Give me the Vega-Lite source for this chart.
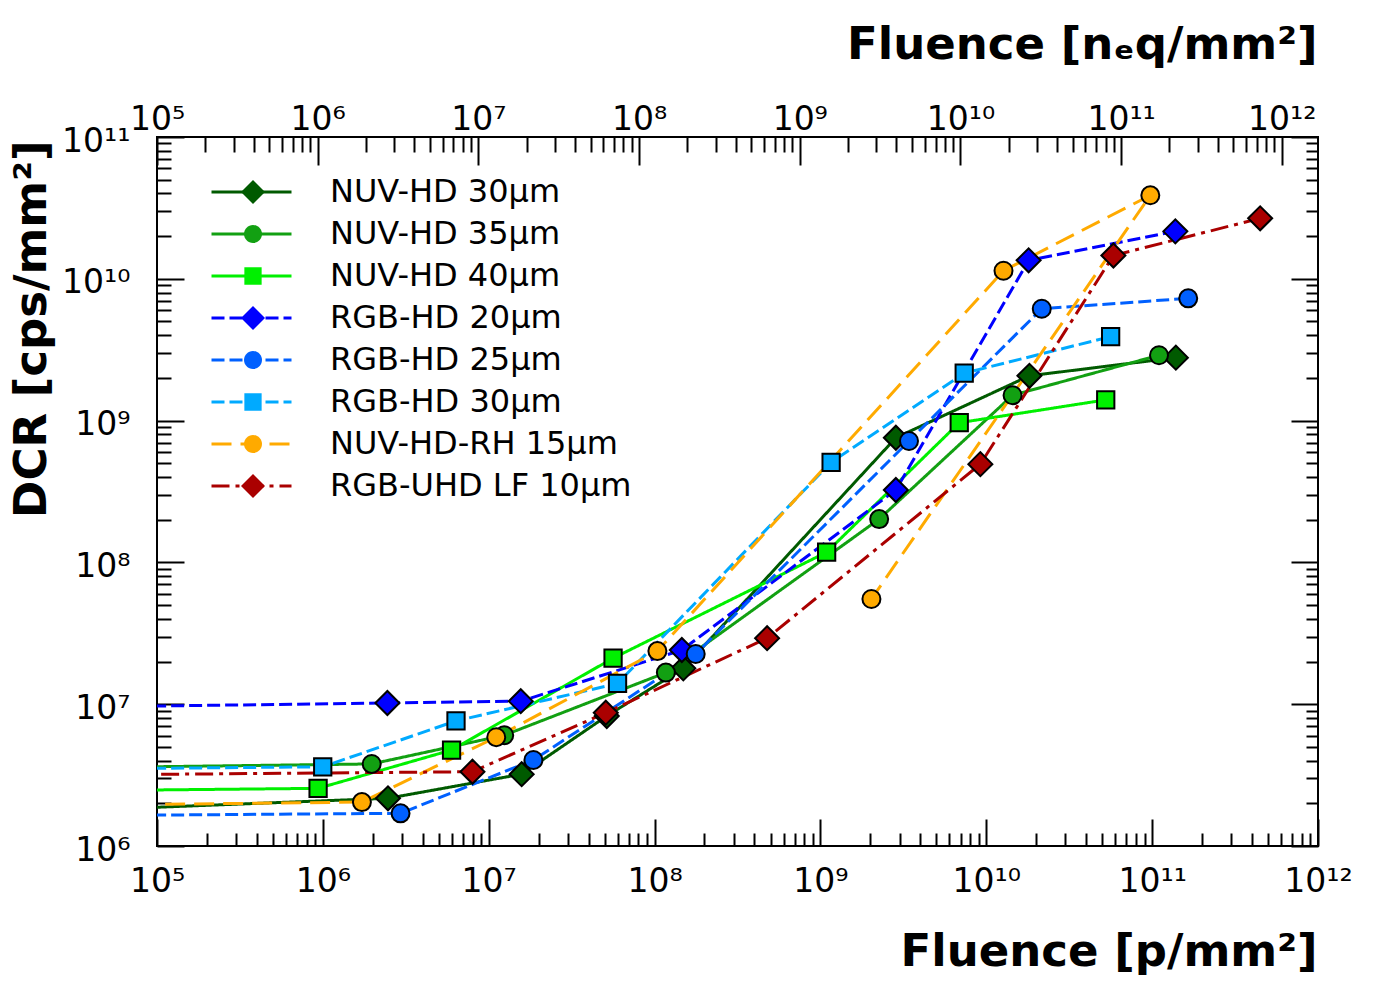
{
  "$schema": "https://vega.github.io/schema/vega-lite/v6.json",
  "description": "DCR vs fluence for several SiPM types, log-log with top n_eq axis.",
  "width": 1161,
  "height": 709,
  "autosize": "none",
  "padding": {"left": 157, "top": 137, "right": 59, "bottom": 138},
  "background": "white",
  "config": {
    "view": {"stroke": "black", "strokeWidth": 2},
    "axis": {
      "domain": false,
      "grid": false,
      "tickColor": "black",
      "tickWidth": 2,
      "labelFont": "DejaVu Sans",
      "labelFontSize": 33,
      "labelColor": "black",
      "labelFlush": false,
      "labelOverlap": false,
      "labelBound": false,
      "titleFont": "DejaVu Sans",
      "titleFontWeight": "bold",
      "titleFontSize": 45,
      "titleColor": "black"
    },
    "legend": {"labelFont": "DejaVu Sans", "labelFontSize": 32, "labelColor": "black", "labelLimit": 500}
  },
  "data": {
    "values": [
      {"series": "NUV-HD 30µm", "sidx": 0, "idx": 0, "fluence": 1e4, "dcr": 1.69e6},
      {"series": "NUV-HD 30µm", "sidx": 0, "idx": 1, "fluence": 2.47e6, "dcr": 2.17e6},
      {"series": "NUV-HD 30µm", "sidx": 0, "idx": 2, "fluence": 1.58e7, "dcr": 3.21e6},
      {"series": "NUV-HD 30µm", "sidx": 0, "idx": 3, "fluence": 5.15e7, "dcr": 8.26e6},
      {"series": "NUV-HD 30µm", "sidx": 0, "idx": 4, "fluence": 1.49e8, "dcr": 1.79e7},
      {"series": "NUV-HD 30µm", "sidx": 0, "idx": 5, "fluence": 2.85e9, "dcr": 7.57e8},
      {"series": "NUV-HD 30µm", "sidx": 0, "idx": 6, "fluence": 1.82e10, "dcr": 2.07e9},
      {"series": "NUV-HD 30µm", "sidx": 0, "idx": 7, "fluence": 1.39e11, "dcr": 2.78e9},
      {"series": "NUV-HD 35µm", "sidx": 1, "idx": 0, "fluence": 1e4, "dcr": 3.5e6},
      {"series": "NUV-HD 35µm", "sidx": 1, "idx": 1, "fluence": 1.97e6, "dcr": 3.79e6},
      {"series": "NUV-HD 35µm", "sidx": 1, "idx": 2, "fluence": 1.24e7, "dcr": 6.04e6},
      {"series": "NUV-HD 35µm", "sidx": 1, "idx": 3, "fluence": 1.17e8, "dcr": 1.67e7},
      {"series": "NUV-HD 35µm", "sidx": 1, "idx": 4, "fluence": 2.26e9, "dcr": 2.02e8},
      {"series": "NUV-HD 35µm", "sidx": 1, "idx": 5, "fluence": 1.44e10, "dcr": 1.51e9},
      {"series": "NUV-HD 35µm", "sidx": 1, "idx": 6, "fluence": 1.1e11, "dcr": 2.89e9},
      {"series": "NUV-HD 40µm", "sidx": 2, "idx": 0, "fluence": 1e4, "dcr": 2.42e6},
      {"series": "NUV-HD 40µm", "sidx": 2, "idx": 1, "fluence": 9.36e5, "dcr": 2.55e6},
      {"series": "NUV-HD 40µm", "sidx": 2, "idx": 2, "fluence": 5.97e6, "dcr": 4.75e6},
      {"series": "NUV-HD 40µm", "sidx": 2, "idx": 3, "fluence": 5.62e7, "dcr": 2.11e7},
      {"series": "NUV-HD 40µm", "sidx": 2, "idx": 4, "fluence": 1.09e9, "dcr": 1.18e8},
      {"series": "NUV-HD 40µm", "sidx": 2, "idx": 5, "fluence": 6.87e9, "dcr": 9.66e8},
      {"series": "NUV-HD 40µm", "sidx": 2, "idx": 6, "fluence": 5.25e10, "dcr": 1.4e9},
      {"series": "RGB-HD 20µm", "sidx": 3, "idx": 0, "fluence": 1e4, "dcr": 9.37e6},
      {"series": "RGB-HD 20µm", "sidx": 3, "idx": 1, "fluence": 2.45e6, "dcr": 1.02e7},
      {"series": "RGB-HD 20µm", "sidx": 3, "idx": 2, "fluence": 1.56e7, "dcr": 1.05e7},
      {"series": "RGB-HD 20µm", "sidx": 3, "idx": 3, "fluence": 1.46e8, "dcr": 2.41e7},
      {"series": "RGB-HD 20µm", "sidx": 3, "idx": 4, "fluence": 2.85e9, "dcr": 3.24e8},
      {"series": "RGB-HD 20µm", "sidx": 3, "idx": 5, "fluence": 1.8e10, "dcr": 1.35e10},
      {"series": "RGB-HD 20µm", "sidx": 3, "idx": 6, "fluence": 1.38e11, "dcr": 2.16e10},
      {"series": "RGB-HD 25µm", "sidx": 4, "idx": 0, "fluence": 1e4, "dcr": 1.62e6},
      {"series": "RGB-HD 25µm", "sidx": 4, "idx": 1, "fluence": 2.94e6, "dcr": 1.7e6},
      {"series": "RGB-HD 25µm", "sidx": 4, "idx": 2, "fluence": 1.86e7, "dcr": 4.04e6},
      {"series": "RGB-HD 25µm", "sidx": 4, "idx": 3, "fluence": 1.77e8, "dcr": 2.26e7},
      {"series": "RGB-HD 25µm", "sidx": 4, "idx": 4, "fluence": 3.42e9, "dcr": 7.18e8},
      {"series": "RGB-HD 25µm", "sidx": 4, "idx": 5, "fluence": 2.16e10, "dcr": 6.15e9},
      {"series": "RGB-HD 25µm", "sidx": 4, "idx": 6, "fluence": 1.65e11, "dcr": 7.28e9},
      {"series": "RGB-HD 30µm", "sidx": 5, "idx": 0, "fluence": 1e4, "dcr": 3.44e6},
      {"series": "RGB-HD 30µm", "sidx": 5, "idx": 1, "fluence": 9.98e5, "dcr": 3.62e6},
      {"series": "RGB-HD 30µm", "sidx": 5, "idx": 2, "fluence": 6.35e6, "dcr": 7.62e6},
      {"series": "RGB-HD 30µm", "sidx": 5, "idx": 3, "fluence": 5.98e7, "dcr": 1.4e7},
      {"series": "RGB-HD 30µm", "sidx": 5, "idx": 4, "fluence": 1.16e9, "dcr": 5.08e8},
      {"series": "RGB-HD 30µm", "sidx": 5, "idx": 5, "fluence": 7.36e9, "dcr": 2.16e9},
      {"series": "RGB-HD 30µm", "sidx": 5, "idx": 6, "fluence": 5.62e10, "dcr": 3.91e9},
      {"series": "NUV-HD-RH 15µm", "sidx": 6, "idx": 0, "fluence": 1e4, "dcr": 1.91e6},
      {"series": "NUV-HD-RH 15µm", "sidx": 6, "idx": 1, "fluence": 1.72e6, "dcr": 2.04e6},
      {"series": "NUV-HD-RH 15µm", "sidx": 6, "idx": 2, "fluence": 1.11e7, "dcr": 5.85e6},
      {"series": "NUV-HD-RH 15µm", "sidx": 6, "idx": 3, "fluence": 1.04e8, "dcr": 2.37e7},
      {"series": "NUV-HD-RH 15µm", "sidx": 6, "idx": 4, "fluence": 1.27e10, "dcr": 1.14e10},
      {"series": "NUV-HD-RH 15µm", "sidx": 6, "idx": 5, "fluence": 9.75e10, "dcr": 3.88e10},
      {"series": "NUV-HD-RH 15µm", "sidx": 6, "idx": 6, "fluence": 2.03e9, "dcr": 5.52e7},
      {"series": "RGB-UHD LF 10µm", "sidx": 7, "idx": 0, "fluence": 1e4, "dcr": 3.13e6},
      {"series": "RGB-UHD LF 10µm", "sidx": 7, "idx": 1, "fluence": 7.98e6, "dcr": 3.34e6},
      {"series": "RGB-UHD LF 10µm", "sidx": 7, "idx": 2, "fluence": 5.08e7, "dcr": 8.71e6},
      {"series": "RGB-UHD LF 10µm", "sidx": 7, "idx": 3, "fluence": 4.77e8, "dcr": 2.92e7},
      {"series": "RGB-UHD LF 10µm", "sidx": 7, "idx": 4, "fluence": 9.21e9, "dcr": 4.93e8},
      {"series": "RGB-UHD LF 10µm", "sidx": 7, "idx": 5, "fluence": 5.84e10, "dcr": 1.46e10},
      {"series": "RGB-UHD LF 10µm", "sidx": 7, "idx": 6, "fluence": 4.48e11, "dcr": 2.67e10}
    ]
  },
  "layer": [
    {
      "mark": {"type": "line", "clip": true, "strokeWidth": 3},
      "encoding": {
        "x": {
          "field": "fluence",
          "type": "quantitative",
          "scale": {"type": "log", "domain": [1e5, 1e12], "nice": false},
          "axis": {
            "orient": "bottom",
            "title": "Fluence [p/mm²]",
            "titleAnchor": "end",
            "titleAlign": "right",
            "titleBaseline": "alphabetic",
            "titleX": 1160,
            "titleY": 119,
            "labelPadding": 46,
            "tickSize": {"condition": {"test": "abs(log(datum.value)/LN10 - round(log(datum.value)/LN10)) < 0.001", "value": -27}, "value": -13},
            "values": [1e5, 2e5, 3e5, 4e5, 5e5, 6e5, 7e5, 8e5, 9e5, 1e6, 2e6, 3e6, 4e6, 5e6, 6e6, 7e6, 8e6, 9e6, 1e7, 2e7, 3e7, 4e7, 5e7, 6e7, 7e7, 8e7, 9e7, 1e8, 2e8, 3e8, 4e8, 5e8, 6e8, 7e8, 8e8, 9e8, 1e9, 2e9, 3e9, 4e9, 5e9, 6e9, 7e9, 8e9, 9e9, 1e10, 2e10, 3e10, 4e10, 5e10, 6e10, 7e10, 8e10, 9e10, 1e11, 2e11, 3e11, 4e11, 5e11, 6e11, 7e11, 8e11, 9e11, 1e12],
            "labelExpr": "abs(log(datum.value)/LN10 - round(log(datum.value)/LN10)) < 0.001 ? '10' + (round(log(datum.value)/LN10) >= 10 ? '¹' + ['⁰','¹','²','³','⁴','⁵','⁶','⁷','⁸','⁹'][round(log(datum.value)/LN10) - 10] : ['⁰','¹','²','³','⁴','⁵','⁶','⁷','⁸','⁹'][round(log(datum.value)/LN10)]) : ''"
          }
        },
        "y": {
          "field": "dcr",
          "type": "quantitative",
          "scale": {"type": "log", "domain": [1e6, 1e11], "nice": false},
          "axis": {
            "orient": "left",
            "title": "DCR [cps/mm²]",
            "titleAngle": -90,
            "titleAnchor": "end",
            "titleAlign": "right",
            "titleBaseline": "alphabetic",
            "titleX": -112,
            "titleY": 3,
            "labelPadding": 54,
            "labelOffset": 4,
            "tickSize": {"condition": {"test": "abs(log(datum.value)/LN10 - round(log(datum.value)/LN10)) < 0.001", "value": -27}, "value": -14},
            "values": [1e6, 2e6, 3e6, 4e6, 5e6, 6e6, 7e6, 8e6, 9e6, 1e7, 2e7, 3e7, 4e7, 5e7, 6e7, 7e7, 8e7, 9e7, 1e8, 2e8, 3e8, 4e8, 5e8, 6e8, 7e8, 8e8, 9e8, 1e9, 2e9, 3e9, 4e9, 5e9, 6e9, 7e9, 8e9, 9e9, 1e10, 2e10, 3e10, 4e10, 5e10, 6e10, 7e10, 8e10, 9e10, 1e11],
            "labelExpr": "abs(log(datum.value)/LN10 - round(log(datum.value)/LN10)) < 0.001 ? '10' + (round(log(datum.value)/LN10) >= 10 ? '¹' + ['⁰','¹','²','³','⁴','⁵','⁶','⁷','⁸','⁹'][round(log(datum.value)/LN10) - 10] : ['⁰','¹','²','³','⁴','⁵','⁶','⁷','⁸','⁹'][round(log(datum.value)/LN10)]) : ''"
          }
        },
        "color": {
          "field": "series",
          "type": "nominal",
          "scale": {
            "domain": ["NUV-HD 30µm", "NUV-HD 35µm", "NUV-HD 40µm", "RGB-HD 20µm", "RGB-HD 25µm", "RGB-HD 30µm", "NUV-HD-RH 15µm", "RGB-UHD LF 10µm"],
            "range": ["#005a00", "#12a012", "#00f000", "#0000ff", "#0060ff", "#00aaff", "#ffaa00", "#aa0000"]
          },
          "legend": {"orient": "none", "legendX": 53, "legendY": 34, "title": null, "padding": 0, "symbolSize": 6400, "symbolStrokeWidth": 3, "clipHeight": 42, "rowPadding": 0, "labelExpr": "''"}
        },
        "strokeDash": {
          "field": "series",
          "type": "nominal",
          "scale": {
            "domain": ["NUV-HD 30µm", "NUV-HD 35µm", "NUV-HD 40µm", "RGB-HD 20µm", "RGB-HD 25µm", "RGB-HD 30µm", "NUV-HD-RH 15µm", "RGB-UHD LF 10µm"],
            "range": [[1, 0], [1, 0], [1, 0], [13, 5], [13, 5], [13, 5], [20, 9], [18, 6, 4, 6]]
          },
          "legend": {"orient": "none", "legendX": 53, "legendY": 34, "title": null, "padding": 0, "symbolSize": 6400, "symbolStrokeWidth": 3, "clipHeight": 42, "rowPadding": 0, "labelExpr": "''"}
        },
        "order": {"field": "idx", "type": "quantitative"}
      }
    },
    {
      "mark": {"type": "point", "filled": true, "clip": true, "size": 576, "stroke": "black", "strokeWidth": 2, "opacity": 1},
      "encoding": {
        "x": {
          "field": "fluence",
          "type": "quantitative",
          "scale": {"type": "log", "domain": [1e5, 1e12], "nice": false},
          "axis": null
        },
        "y": {"field": "dcr", "type": "quantitative", "axis": null},
        "fill": {
          "field": "series",
          "type": "nominal",
          "sort": {"field": "sidx", "op": "min"},
          "scale": {"range": ["#005a00", "#12a012", "#00f000", "#0000ff", "#0060ff", "#00aaff", "#ffaa00", "#aa0000"]},
          "legend": {"orient": "none", "legendX": 80, "legendY": 34, "title": null, "padding": 0, "symbolSize": 576, "symbolStrokeColor": "black", "symbolStrokeWidth": 2, "clipHeight": 42, "rowPadding": 0, "labelOffset": 61, "labelBaseline": "middle"}
        },
        "shape": {
          "field": "series",
          "type": "nominal",
          "sort": {"field": "sidx", "op": "min"},
          "scale": {
            "range": [
              "M-1,0L0,-1L1,0L0,1Z",
              "M-0.75,0A0.75,0.75,0,1,1,0.75,0A0.75,0.75,0,1,1,-0.75,0Z",
              "M-0.72,-0.72L0.72,-0.72L0.72,0.72L-0.72,0.72Z",
              "M-1,0L0,-1L1,0L0,1Z",
              "M-0.75,0A0.75,0.75,0,1,1,0.75,0A0.75,0.75,0,1,1,-0.75,0Z",
              "M-0.72,-0.72L0.72,-0.72L0.72,0.72L-0.72,0.72Z",
              "M-0.75,0A0.75,0.75,0,1,1,0.75,0A0.75,0.75,0,1,1,-0.75,0Z",
              "M-1,0L0,-1L1,0L0,1Z"
            ]
          },
          "legend": {"orient": "none", "legendX": 80, "legendY": 34, "title": null, "padding": 0, "symbolSize": 576, "symbolStrokeColor": "black", "symbolStrokeWidth": 2, "clipHeight": 42, "rowPadding": 0, "labelOffset": 61, "labelBaseline": "middle"}
        }
      }
    },
    {
      "mark": {"type": "point", "opacity": 0, "clip": true},
      "encoding": {
        "x": {
          "field": "fluence",
          "type": "quantitative",
          "scale": {"type": "log", "domain": [1e5, 1.68e12], "nice": false},
          "axis": {
            "orient": "top",
            "title": "Fluence [nₑq/mm²]",
            "titleAnchor": "end",
            "titleAlign": "right",
            "titleBaseline": "alphabetic",
            "titleX": 1160,
            "titleY": -79,
            "labelPadding": 29,
            "tickSize": {"condition": {"test": "abs(log(datum.value)/LN10 - round(log(datum.value)/LN10)) < 0.001", "value": -28}, "value": -15},
            "values": [1e5, 2e5, 3e5, 4e5, 5e5, 6e5, 7e5, 8e5, 9e5, 1e6, 2e6, 3e6, 4e6, 5e6, 6e6, 7e6, 8e6, 9e6, 1e7, 2e7, 3e7, 4e7, 5e7, 6e7, 7e7, 8e7, 9e7, 1e8, 2e8, 3e8, 4e8, 5e8, 6e8, 7e8, 8e8, 9e8, 1e9, 2e9, 3e9, 4e9, 5e9, 6e9, 7e9, 8e9, 9e9, 1e10, 2e10, 3e10, 4e10, 5e10, 6e10, 7e10, 8e10, 9e10, 1e11, 2e11, 3e11, 4e11, 5e11, 6e11, 7e11, 8e11, 9e11, 1e12],
            "labelExpr": "abs(log(datum.value)/LN10 - round(log(datum.value)/LN10)) < 0.001 ? '10' + (round(log(datum.value)/LN10) >= 10 ? '¹' + ['⁰','¹','²','³','⁴','⁵','⁶','⁷','⁸','⁹'][round(log(datum.value)/LN10) - 10] : ['⁰','¹','²','³','⁴','⁵','⁶','⁷','⁸','⁹'][round(log(datum.value)/LN10)]) : ''"
          }
        },
        "y": {
          "field": "dcr",
          "type": "quantitative",
          "axis": {
            "orient": "right",
            "title": null,
            "labels": false,
            "tickSize": {"condition": {"test": "abs(log(datum.value)/LN10 - round(log(datum.value)/LN10)) < 0.001", "value": -27}, "value": -12},
            "values": [1e6, 2e6, 3e6, 4e6, 5e6, 6e6, 7e6, 8e6, 9e6, 1e7, 2e7, 3e7, 4e7, 5e7, 6e7, 7e7, 8e7, 9e7, 1e8, 2e8, 3e8, 4e8, 5e8, 6e8, 7e8, 8e8, 9e8, 1e9, 2e9, 3e9, 4e9, 5e9, 6e9, 7e9, 8e9, 9e9, 1e10, 2e10, 3e10, 4e10, 5e10, 6e10, 7e10, 8e10, 9e10, 1e11]
          }
        }
      }
    }
  ],
  "resolve": {
    "scale": {"x": "independent"},
    "axis": {"x": "independent", "y": "independent"}
  }
}
